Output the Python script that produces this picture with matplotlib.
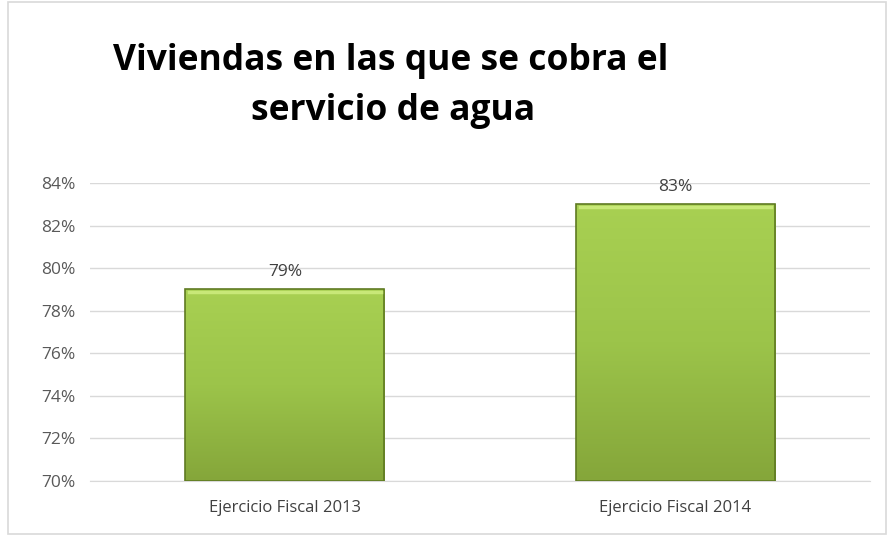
import numpy as np
import matplotlib.pyplot as plt
from matplotlib.patches import Rectangle
from matplotlib.colors import LinearSegmentedColormap

categories = ["Ejercicio Fiscal 2013", "Ejercicio Fiscal 2014"]
values = [79, 83]
labels = ["79%", "83%"]
yticks = [70, 72, 74, 76, 78, 80, 82, 84]

plt.rcParams['font.family'] = ['Open Sans', 'DejaVu Sans']

fig = plt.figure(figsize=(8.89, 5.36), dpi=100)
fig.patches.append(Rectangle((0.009, 0.004), 0.988, 0.992, transform=fig.transFigure,
                             fill=False, edgecolor="#d9d9d9", linewidth=1.2))

ax = fig.add_axes([0.101, 0.1026, 0.878, 0.556])
ax.set_xlim(-0.5, 1.5)
ax.set_ylim(70, 84)

cmap = LinearSegmentedColormap.from_list("grn", ["#85a63a", "#9cc44a", "#a8d052"])
grad = np.linspace(0, 1, 256).reshape(-1, 1)
w = 0.51
for i, v in enumerate(values):
    ax.imshow(grad, extent=(i - w / 2, i + w / 2, 70, v), origin="lower", cmap=cmap,
              aspect="auto", zorder=3)
    ax.add_patch(Rectangle((i - w / 2, 70), w, v - 70, fill=False,
                           edgecolor="#5f7a22", linewidth=1.2, zorder=4))
    ax.plot([i - w / 2 + 0.01, i + w / 2 - 0.01], [v - 0.12, v - 0.12],
            color="#c8e878", linewidth=2.5, zorder=4)
    ax.text(i, v + 0.45, labels[i], ha="center", va="bottom", fontsize=12.5, color="#404040")

ax.set_xticks(range(len(categories)))
ax.set_xticklabels(categories, fontsize=12, color="#404040")
ax.set_yticks(yticks)
ax.set_yticklabels([f"{t}%" for t in yticks], fontsize=12.5, color="#595959")
ax.yaxis.grid(True, color="#d9d9d9", linewidth=1)
ax.set_axisbelow(True)
ax.tick_params(length=0, pad=10)
ax.tick_params(axis="x", pad=14)
for s in ["top", "right", "left"]:
    ax.spines[s].set_visible(False)
ax.spines["bottom"].set_color("#d9d9d9")

fig.text(0.44, 0.869, "Viviendas en las que se cobra el", ha="center", va="baseline",
         fontsize=25.5, fontweight="bold", color="black")
fig.text(0.442, 0.776, "servicio de agua", ha="center", va="baseline",
         fontsize=25.5, fontweight="bold", color="black")

fig.savefig("out.png", dpi=100)
